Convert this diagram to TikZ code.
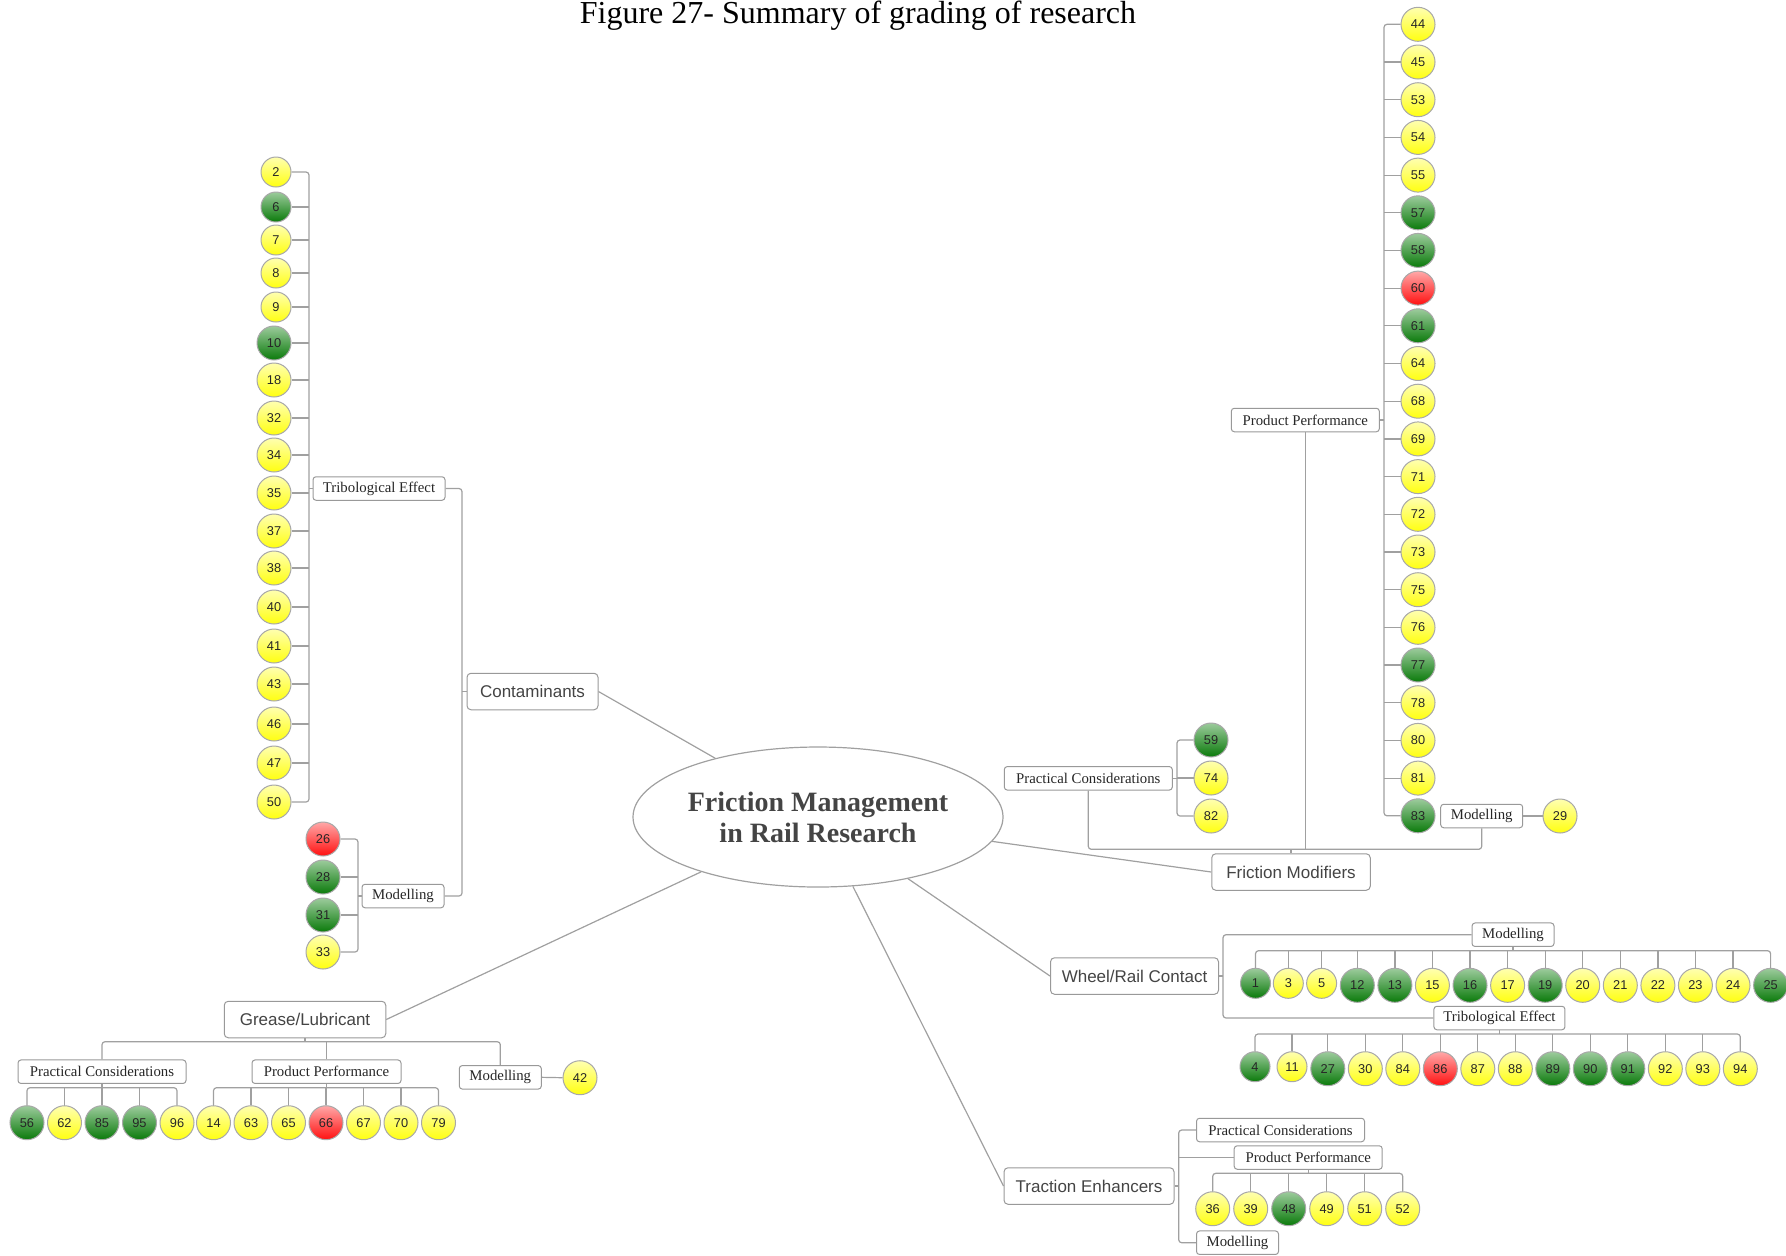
\documentclass[tikz,border=0pt]{standalone}
\usepackage{fontspec}
\setmainfont{Liberation Serif}
\newfontfamily\lsans{Liberation Sans}
\usetikzlibrary{shapes.geometric}
\definecolor{linec}{HTML}{A0A0A0}
\definecolor{boxc}{HTML}{999999}
\definecolor{bubc}{HTML}{A8A8A8}
\definecolor{txt}{HTML}{444444}
\definecolor{Ytop}{HTML}{FFFFB0}
\definecolor{Ybot}{HTML}{FFFF10}
\definecolor{Gtop}{HTML}{9CCB9C}
\definecolor{Gbot}{HTML}{0A7A0A}
\definecolor{Rtop}{HTML}{FFA8A8}
\definecolor{Rbot}{HTML}{FF1010}
\newcommand\mybub[5]{\node[bubble, top color=#4top, bottom color=#4bot, minimum size=#5pt] (b#1) at (#2,#3) {#1};}
\begin{document}
\begin{tikzpicture}[x=0.5pt,y=-0.5pt,
  conn/.style={draw=linec, line width=0.6pt, rounded corners=1.5pt},
  bubble/.style={circle, draw=bubc, line width=0.5pt, inner sep=0pt, font=\lsans\fontsize{6.4}{7}\selectfont, text=black!85},
  sbox/.style={draw=boxc, fill=white, rounded corners=1.5pt, line width=0.5pt, inner sep=0pt, minimum height=11.75pt, font=\fontsize{7.4}{8.5}\selectfont, text=black!85},
  mbox/.style={draw=boxc, fill=white, rounded corners=2pt, line width=0.5pt, inner sep=0pt, minimum height=18.25pt, font=\lsans\fontsize{8.5}{10}\selectfont, text=txt},
]
\useasboundingbox (0,0) rectangle (1786,1255);

\node[anchor=base, font=\fontsize{16}{19}\selectfont] (title) at (858,23.5) {Figure 27- Summary of grading of research};

\node[ellipse, draw=linec, line width=0.6pt, minimum width=185pt, minimum height=70pt, inner sep=0pt, align=center, font=\bfseries\fontsize{14}{15.5}\selectfont, text=txt] (root) at (818,817) {Friction Management\\in Rail Research};

% main branches
\node[mbox, minimum width=65.5pt] (cont) at (532.5,691.5) {Contaminants};
\node[mbox, minimum width=80.75pt] (grease) at (305,1019.5) {Grease/Lubricant};
\node[mbox, minimum width=79.25pt] (fm) at (1291,872) {Friction Modifiers};
\node[mbox, minimum width=84pt] (wrc) at (1134.5,976) {Wheel/Rail Contact};
\node[mbox, minimum width=85pt] (te) at (1089,1186) {Traction Enhancers};

% sub branches
\node[sbox, minimum width=66pt] (tribL) at (379,488.5) {Tribological Effect};
\node[sbox, minimum width=41pt] (modL) at (403,896) {Modelling};
\node[sbox, minimum width=84pt] (gPC) at (102,1071.7) {Practical Considerations};
\node[sbox, minimum width=74.5pt] (gPP) at (326.5,1071.7) {Product Performance};
\node[sbox, minimum width=41pt] (gMod) at (500.3,1077.3) {Modelling};
\node[sbox, minimum width=84pt] (fmPC) at (1088.3,778.3) {Practical Considerations};
\node[sbox, minimum width=74pt] (fmPP) at (1305.3,420) {Product Performance};
\node[sbox, minimum width=41pt] (fmMod) at (1481.7,816) {Modelling};
\node[sbox, minimum width=41pt] (wMod) at (1513,934.7) {Modelling};
\node[sbox, minimum width=65.5pt] (wTrib) at (1499.4,1018) {Tribological Effect};
\node[sbox, minimum width=84pt] (tPC) at (1280.5,1130) {Practical Considerations};
\node[sbox, minimum width=74pt] (tPP) at (1308.2,1157.5) {Product Performance};
\node[sbox, minimum width=41pt] (tMod) at (1237.5,1242.7) {Modelling};

% Contaminants / Tribological Effect
\mybub{2}{276}{172}{Y}{15}
\mybub{6}{276}{207}{G}{15}
\mybub{7}{276}{240}{Y}{15}
\mybub{8}{276}{273}{Y}{15}
\mybub{9}{276}{307}{Y}{15}
\mybub{10}{274}{343}{G}{17}
\mybub{18}{274}{380}{Y}{17}
\mybub{32}{274}{418}{Y}{17}
\mybub{34}{274}{455}{Y}{17}
\mybub{35}{274}{493}{Y}{17}
\mybub{37}{274}{531}{Y}{17}
\mybub{38}{274}{568}{Y}{17}
\mybub{40}{274}{607}{Y}{17}
\mybub{41}{274}{646}{Y}{17}
\mybub{43}{274}{684}{Y}{17}
\mybub{46}{274}{724}{Y}{17}
\mybub{47}{274}{763}{Y}{17}
\mybub{50}{274}{802}{Y}{17}
% Contaminants / Modelling
\mybub{26}{323}{839}{R}{17}
\mybub{28}{323}{877}{G}{17}
\mybub{31}{323}{915}{G}{17}
\mybub{33}{323}{952}{Y}{17}

% Grease
\mybub{56}{27}{1122.7}{G}{17}
\mybub{62}{64.5}{1122.7}{Y}{17}
\mybub{85}{102}{1122.7}{G}{17}
\mybub{95}{139.5}{1122.7}{G}{17}
\mybub{96}{177}{1122.7}{Y}{17}
\mybub{14}{213.5}{1122.7}{Y}{17}
\mybub{63}{251}{1122.7}{Y}{17}
\mybub{65}{288.5}{1122.7}{Y}{17}
\mybub{66}{326}{1122.7}{R}{17}
\mybub{67}{363.5}{1122.7}{Y}{17}
\mybub{70}{401}{1122.7}{Y}{17}
\mybub{79}{438.5}{1122.7}{Y}{17}
\mybub{42}{580}{1077.7}{Y}{17}

% Friction Modifiers
\mybub{59}{1211}{740}{G}{17}
\mybub{74}{1211}{778}{Y}{17}
\mybub{82}{1211}{816}{Y}{17}
\mybub{44}{1418}{24.3}{Y}{17}
\mybub{45}{1418}{62.0}{Y}{17}
\mybub{53}{1418}{99.7}{Y}{17}
\mybub{54}{1418}{137.4}{Y}{17}
\mybub{55}{1418}{175.1}{Y}{17}
\mybub{57}{1418}{212.8}{G}{17}
\mybub{58}{1418}{250.4}{G}{17}
\mybub{60}{1418}{288.1}{R}{17}
\mybub{61}{1418}{325.8}{G}{17}
\mybub{64}{1418}{363.5}{Y}{17}
\mybub{68}{1418}{401.2}{Y}{17}
\mybub{69}{1418}{438.9}{Y}{17}
\mybub{71}{1418}{476.6}{Y}{17}
\mybub{72}{1418}{514.3}{Y}{17}
\mybub{73}{1418}{552.0}{Y}{17}
\mybub{75}{1418}{589.7}{Y}{17}
\mybub{76}{1418}{627.3}{Y}{17}
\mybub{77}{1418}{665.0}{G}{17}
\mybub{78}{1418}{702.7}{Y}{17}
\mybub{80}{1418}{740.4}{Y}{17}
\mybub{81}{1418}{778.1}{Y}{17}
\mybub{83}{1418}{815.8}{G}{17}
\mybub{29}{1560}{816}{Y}{17}

% Wheel/Rail Contact / Modelling
\mybub{1}{1255.5}{983.3}{G}{15}
\mybub{3}{1288.3}{983.3}{Y}{15}
\mybub{5}{1321.6}{983.3}{Y}{15}
\mybub{12}{1357.3}{985.3}{G}{17}
\mybub{13}{1394.9}{985.3}{G}{17}
\mybub{15}{1432.4}{985.3}{Y}{17}
\mybub{16}{1470.0}{985.3}{G}{17}
\mybub{17}{1507.6}{985.3}{Y}{17}
\mybub{19}{1545.2}{985.3}{G}{17}
\mybub{20}{1582.7}{985.3}{Y}{17}
\mybub{21}{1620.3}{985.3}{Y}{17}
\mybub{22}{1657.9}{985.3}{Y}{17}
\mybub{23}{1695.4}{985.3}{Y}{17}
\mybub{24}{1733.0}{985.3}{Y}{17}
\mybub{25}{1770.6}{985.3}{G}{17}
% Wheel/Rail Contact / Tribological Effect
\mybub{4}{1255}{1066.7}{G}{15}
\mybub{11}{1292}{1066.7}{Y}{15}
\mybub{27}{1327.8}{1068.7}{G}{17}
\mybub{30}{1365.3}{1068.7}{Y}{17}
\mybub{84}{1402.8}{1068.7}{Y}{17}
\mybub{86}{1440.3}{1068.7}{R}{17}
\mybub{87}{1477.8}{1068.7}{Y}{17}
\mybub{88}{1515.3}{1068.7}{Y}{17}
\mybub{89}{1552.8}{1068.7}{G}{17}
\mybub{90}{1590.3}{1068.7}{G}{17}
\mybub{91}{1627.8}{1068.7}{G}{17}
\mybub{92}{1665.3}{1068.7}{Y}{17}
\mybub{93}{1702.8}{1068.7}{Y}{17}
\mybub{94}{1740.3}{1068.7}{Y}{17}

% Traction Enhancers
\mybub{36}{1212.7}{1208.7}{Y}{17}
\mybub{39}{1250.7}{1208.7}{Y}{17}
\mybub{48}{1288.7}{1208.7}{G}{17}
\mybub{49}{1326.7}{1208.7}{Y}{17}
\mybub{51}{1364.7}{1208.7}{Y}{17}
\mybub{52}{1402.7}{1208.7}{Y}{17}

% ---------- connectors ----------
\coordinate (sTL) at (309,0);
\coordinate (sC) at (462,0);
\coordinate (sML) at (358,0);
\coordinate (gBus) at (0,1041.7);
\coordinate (gsBus) at (0,1087.7);
\coordinate (fmBus) at (0,849.3);
\coordinate (sFPC) at (1177,0);
\coordinate (sFPP) at (1384,0);
\coordinate (sW) at (1223,0);
\coordinate (wmBus) at (0,950.7);
\coordinate (wtBus) at (0,1034);
\coordinate (sT) at (1178.7,0);
\coordinate (tBus) at (0,1173.3);

% root links
\draw[conn] (root) -- (cont.east);
\draw[conn] (root) -- (grease.east);
\draw[conn] (root) -- (fm.west);
\draw[conn] (root) -- (wrc.west);
\draw[conn] (root) -- (te.west);

% Contaminants
\draw[conn] (tribL.east) -| (sC |- modL.east) -- (modL.east);
\draw[conn] (cont.west) -- (cont.west -| sC);
\draw[conn] (b2.east) -| (sTL |- b50.east) -- (b50.east);
\foreach \n in {6,7,8,9,10,18,32,34,35,37,38,40,41,43,46,47}
  \draw[conn] (b\n.east) -- (b\n.east -| sTL);
\draw[conn] (tribL.west) -- (tribL.west -| sTL);
\draw[conn] (b26.east) -| (sML |- b33.east) -- (b33.east);
\foreach \n in {28,31}
  \draw[conn] (b\n.east) -- (b\n.east -| sML);
\draw[conn] (modL.west) -- (modL.west -| sML);

% Grease
\draw[conn] (gPC.north) |- (gMod.north |- gBus) -- (gMod.north);
\draw[conn] (grease.south) -- (grease.south |- gBus);
\draw[conn] (gPP.north) -- (gPP.north |- gBus);
\draw[conn] (b56.north) |- (b96.north |- gsBus) -- (b96.north);
\foreach \n in {62,85,95}
  \draw[conn] (b\n.north) -- (b\n.north |- gsBus);
\draw[conn] (gPC.south) -- (gPC.south |- gsBus);
\draw[conn] (b14.north) |- (b79.north |- gsBus) -- (b79.north);
\foreach \n in {63,65,66,67,70}
  \draw[conn] (b\n.north) -- (b\n.north |- gsBus);
\draw[conn] (gPP.south) -- (gPP.south |- gsBus);
\draw[conn] (gMod.east) -- (b42.west);

% Friction Modifiers
\draw[conn] (fmPC.south) |- (fmMod.south |- fmBus) -- (fmMod.south);
\draw[conn] (fm.north) -- (fm.north |- fmBus);
\draw[conn] (fmPP.south) -- (fmPP.south |- fmBus);
\draw[conn] (b59.west) -| (sFPC |- b82.west) -- (b82.west);
\draw[conn] (b74.west) -- (b74.west -| sFPC);
\draw[conn] (fmPC.east) -- (fmPC.east -| sFPC);
\draw[conn] (b44.west) -| (sFPP |- b83.west) -- (b83.west);
\foreach \n in {45,53,54,55,57,58,60,61,64,68,69,71,72,73,75,76,77,78,80,81}
  \draw[conn] (b\n.west) -- (b\n.west -| sFPP);
\draw[conn] (fmPP.east) -- (fmPP.east -| sFPP);
\draw[conn] (fmMod.east) -- (b29.west);

% Wheel/Rail Contact
\draw[conn] (wMod.west) -| (sW |- wTrib.west) -- (wTrib.west);
\draw[conn] (wrc.east) -- (wrc.east -| sW);
\draw[conn] (b1.north) |- (b25.north |- wmBus) -- (b25.north);
\foreach \n in {3,5,12,13,15,16,17,19,20,21,22,23,24}
  \draw[conn] (b\n.north) -- (b\n.north |- wmBus);
\draw[conn] (wMod.south) -- (wMod.south |- wmBus);
\draw[conn] (b4.north) |- (b94.north |- wtBus) -- (b94.north);
\foreach \n in {11,27,30,84,86,87,88,89,90,91,92,93}
  \draw[conn] (b\n.north) -- (b\n.north |- wtBus);
\draw[conn] (wTrib.south) -- (wTrib.south |- wtBus);

% Traction Enhancers
\draw[conn] (tPC.west) -| (sT |- tMod.west) -- (tMod.west);
\draw[conn] (te.east) -- (te.east -| sT);
\draw[conn] (tPP.west) -- (tPP.west -| sT);
\draw[conn] (b36.north) |- (b52.north |- tBus) -- (b52.north);
\foreach \n in {39,48,49,51}
  \draw[conn] (b\n.north) -- (b\n.north |- tBus);
\draw[conn] (tPP.south) -- (tPP.south |- tBus);
\end{tikzpicture}
\end{document}
